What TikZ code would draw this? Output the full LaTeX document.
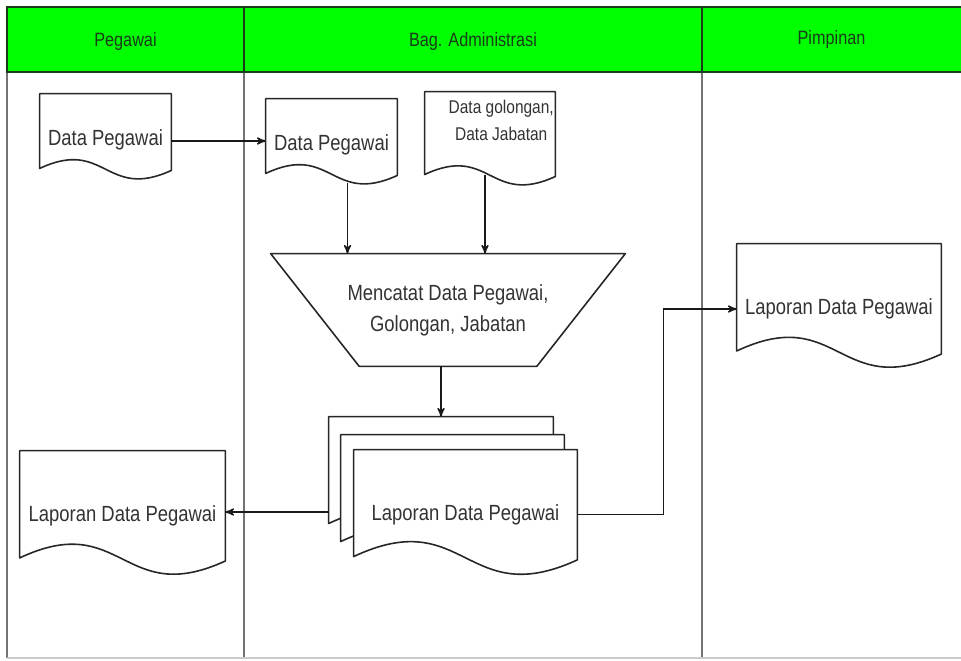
\documentclass[tikz,border=0pt]{standalone}
\usepackage{fontspec}
\setmainfont{Liberation Sans}[FakeStretch=0.84]
\usetikzlibrary{arrows, calc, backgrounds}
\definecolor{lanegreen}{RGB}{0,255,0}
\definecolor{headline}{RGB}{25,60,25}
\tikzset{>=stealth', thick,
    arr/.style={->, line width=0.8pt, black!90},
    doc/.style 2 args={minimum width=#1, minimum height=#2, inner sep=0pt,
        font=\fontsize{12.5}{15}\selectfont, text=black!80},
    oneline/.style={text height=1.3em, text depth=0.25em},
    proc/.style={minimum width=7.08cm, minimum height=2.24cm, inner sep=0pt,
        align=center, font=\fontsize{12.5}{15}\selectfont, text=black!80},
    docline/.style={draw=black!85, fill=white, line width=0.9pt, line join=round},
    lanehead/.style={font=\fontsize{11}{13}\selectfont, text=headline},
    laneline/.style={draw=black!55, line width=1.1pt},
    textnode/.style={}}

\newcommand{\docpath}[1]{%
  \filldraw[docline] (#1.north west) -- (#1.north east)
    -- ($(#1.south east)!0.06!-90:(#1.south west)$)
    .. controls ($(#1.south west)!0.5!(#1.south east)!-0.34!90:(#1.south east)$)
    and ($(#1.south west)!0.5!(#1.south east)!0.62!90:(#1.south east)$)
    .. ($(#1.south west)!0.075!90:(#1.south east)$) -- cycle;}

\begin{document}
\begin{tikzpicture}[x=0.02cm, y=-0.02cm]
\path[use as bounding box] (0,0) rectangle (961,661);

% swimlanes
\fill[lanegreen] (7,7) rectangle (961,72);
\draw[laneline] (7,72) -- (7,658);
\draw[laneline] (244,72) -- (244,658);
\draw[laneline] (702,72) -- (702,658);
\draw[black!20, line width=0.8pt] (7,658) -- (961,658);
\draw[headline, line width=1.2pt] (961,7) -- (7,7) -- (7,72) -- (961,72);
\draw[headline, line width=1.2pt] (244,7) -- (244,72);
\draw[headline, line width=1.2pt] (702,7) -- (702,72);

\node[lanehead] (hPeg) at (125.5,42) {Pegawai};
\node[lanehead] (hAdm) at (473,42) {Bag. Administrasi};
\node[lanehead] (hPim) at (831.5,40) {Pimpinan};

% documents and process
\node[doc={2.62cm}{1.68cm}, oneline] (dpA) at (105.5,136) {Data Pegawai};
\node[doc={2.62cm}{1.68cm}, oneline] (dpB) at (331.5,141) {Data Pegawai};
\node[doc={2.60cm}{1.84cm}, align=center, text depth=20pt,
    font=\fontsize{10.5}{15.5}\selectfont] (dgol) at (490,138)
    {\hspace*{0.45cm}Data golongan,\\\hspace*{0.45cm}Data Jabatan};
\node[proc] (trap) at (448,310) {Mencatat Data Pegawai,\\[2.5pt]Golongan, Jabatan};
\node[doc={4.48cm}{2.46cm}] (lapS3) at (441,478.5) {};
\node[doc={4.46cm}{2.46cm}] (lapS2) at (452.5,496.5) {};
\node[doc={4.46cm}{2.46cm}, oneline] (lapA) at (465.5,511.5) {Laporan Data Pegawai};
\node[doc={4.10cm}{2.44cm}, oneline] (lapP) at (122.5,512) {Laporan Data Pegawai};
\node[doc={4.08cm}{2.44cm}, oneline] (lapK) at (839,305) {Laporan Data Pegawai};

\begin{scope}[on background layer]
\fill[white] (0,0) rectangle (961,661);
\foreach \d in {dpA, dpB, dgol, lapS3, lapS2, lapA, lapP, lapK}
    {\docpath{\d}}
\draw[docline] (trap.north west) -- (trap.north east)
    -- ([xshift=-1.77cm]trap.south east) -- ([xshift=1.77cm]trap.south west) -- cycle;
\end{scope}

% flows
\draw[arr] (dpB.west -| dpA.east) -- (dpB.west);
\draw[arr] ([xshift=0.32cm]dpB.south) -- ([xshift=0.32cm]dpB.south |- trap.north);
\draw[arr] ([xshift=-0.1cm, yshift=0.18cm]dgol.south) -- ([xshift=-0.1cm]dgol.south |- trap.north);
\draw[arr] (trap.south -| lapS3.north) -- (lapS3.north);
\draw[arr] (lapS3.west |- lapP.east) -- (lapP.east);
\draw[arr] ([yshift=-0.06cm]lapA.east) -- ++(86,0) |- ([yshift=-0.08cm]lapK.west);
\end{tikzpicture}
\end{document}
